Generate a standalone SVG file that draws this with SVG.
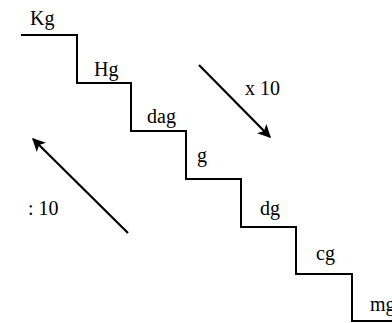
<svg xmlns="http://www.w3.org/2000/svg" width="392" height="323" viewBox="0 0 392 323">
<style>
.t{font-family:"Liberation Serif","Times New Roman",serif;font-size:20px;fill:#000}
.s{fill:none;stroke:#000;stroke-width:2}
.a{fill:none;stroke:#000;stroke-width:2.2}
</style>
<defs>
<marker id="ah" viewBox="0 0 10 10" refX="9" refY="5" markerWidth="6" markerHeight="6" orient="auto" markerUnits="strokeWidth">
<path d="M0,0 L10,5 L0,10 L2.5,5 z" fill="#000"/>
</marker>
</defs>
<rect width="392" height="323" fill="#fff"/>
<g id="stairs">
<path class="s" d="M21,35 H77 V83 H131 V131 H186 V179 H241 V227 H296 V274 H352 V321 H392"/>
</g>
<g id="kg"><text class="t" x="30" y="25">Kg</text></g>
<g id="hg"><text class="t" x="94" y="76">Hg</text></g>
<g id="dag"><text class="t" x="147" y="123">dag</text></g>
<g id="g"><text class="t" x="197" y="162">g</text></g>
<g id="dg"><text class="t" x="260" y="215">dg</text></g>
<g id="cg"><text class="t" x="316" y="260">cg</text></g>
<g id="mg"><text class="t" x="370" y="311">mg</text></g>
<g id="connectors">
<line class="a" x1="199" y1="65" x2="270" y2="137" marker-end="url(#ah)"/>
<line class="a" x1="128" y1="233" x2="33" y2="139" marker-end="url(#ah)"/>
</g>
<g id="labels">
<text class="t" x="245" y="95">x 10</text>
<text class="t" x="28" y="215">: 10</text>
</g>
</svg>
